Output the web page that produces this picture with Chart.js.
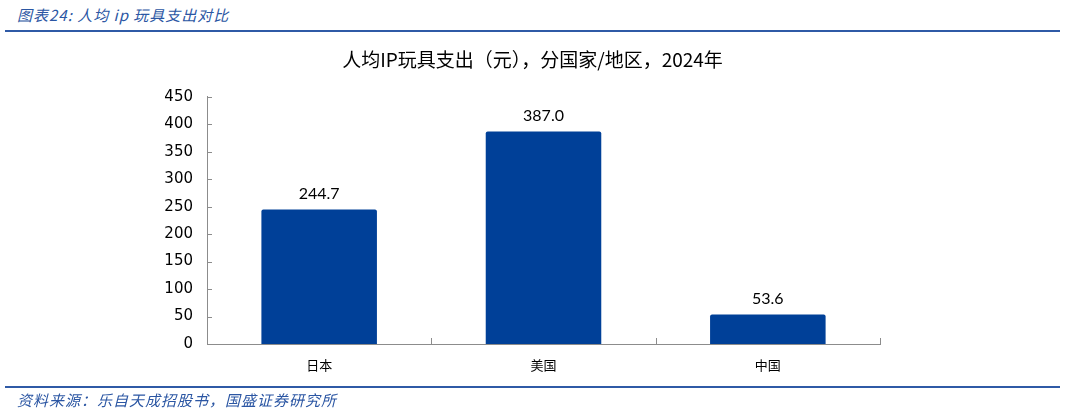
<!DOCTYPE html>
<html>
<head>
<meta charset="utf-8">
<script src="https://cdn.jsdelivr.net/npm/chart.js@4.4.1/dist/chart.umd.min.js"></script>
<style>
  html, body { margin: 0; padding: 0; background: #fff; }
  #wrap { position: relative; width: 1065px; height: 412px; overflow: hidden; }
  #head, #foot {
    position: absolute; left: 17px;
    font-family: "Noto Sans CJK SC", sans-serif; font-style: italic;
    font-size: 15px; color: #2b56a3; white-space: nowrap; letter-spacing: 1px;
  }
  #head { top: 4px; }
  #foot { top: 389px; }
  .rule { position: absolute; left: 5px; width: 1055px; height: 2px; background: #2f5aa6; }
  canvas { position: absolute; left: 0; top: 0; }
</style>
</head>
<body>
<div id="wrap">
  <div id="head">图表24:  人均 ip 玩具支出对比</div>
  <div class="rule" style="top:30px"></div>
  <canvas id="toyChart" width="1065" height="412"></canvas>
  <div class="rule" style="top:386px"></div>
  <div id="foot">资料来源：乐自天成招股书，国盛证券研究所</div>
</div>
<script>
// categories and values
const regions = ["日本", "美国", "中国"];
const spending = [244.7, 387.0, 53.6];
const yTicks = [0, 50, 100, 150, 200, 250, 300, 350, 400, 450];

const axisGrey = "#8c8c8c";

// inward tick marks + value labels above bars
const extras = {
  id: "extras",
  afterDatasetsDraw(chart) {
    const ctx = chart.ctx;
    const area = chart.chartArea;
    const y = chart.scales.y;
    const x = chart.scales.x;
    ctx.save();
    ctx.strokeStyle = axisGrey;
    ctx.lineWidth = 1;
    yTicks.forEach(function (v) {
      const py = Math.round(y.getPixelForValue(v)) + 0.5;
      ctx.beginPath();
      ctx.moveTo(area.left, py);
      ctx.lineTo(area.left + 5, py);
      ctx.stroke();
    });
    for (let i = 1; i <= regions.length; i++) {
      const px = Math.round(x.getPixelForValue(i - 0.5)) + 0.5;
      ctx.beginPath();
      ctx.moveTo(px, area.bottom);
      ctx.lineTo(px, area.bottom - 6);
      ctx.stroke();
    }
    ctx.fillStyle = "#000";
    ctx.font = "16px Lato";
    ctx.textAlign = "center";
    ctx.textBaseline = "middle";
    chart.getDatasetMeta(0).data.forEach(function (bar, i) {
      ctx.fillText(spending[i].toFixed(1), bar.x, bar.y - 16);
    });
    ctx.restore();
  }
};

new Chart(document.getElementById("toyChart").getContext("2d"), {
  type: "bar",
  data: {
    labels: regions,
    datasets: [
      {
        label: "人均IP玩具支出",
        data: spending,
        backgroundColor: "#004098",
        borderRadius: 2,
        borderSkipped: "bottom",
        categoryPercentage: 1,
        barPercentage: 0.515
      }
    ]
  },
  options: {
    responsive: false,
    animation: false,
    layout: { padding: 0 },
    plugins: {
      legend: { display: false },
      tooltip: { enabled: false },
      title: {
        display: true,
        text: "人均IP玩具支出（元），分国家/地区，2024年",
        color: "#000",
        font: { family: "Noto Sans CJK SC", size: 19, weight: "normal" },
        padding: { top: 48, bottom: 26 }
      }
    },
    scales: {
      x: {
        grid: { display: false, drawTicks: false },
        border: { display: true, color: axisGrey, width: 1 },
        ticks: {
          color: "#000",
          padding: 13,
          font: { family: "Noto Sans CJK SC", size: 13 }
        },
        afterFit(axis) { axis.height = 68; }
      },
      y: {
        min: 0,
        max: 450,
        afterBuildTicks(axis) { axis.ticks = yTicks.map(function (v) { return { value: v }; }); },
        grid: { display: false, drawTicks: false },
        border: { display: true, color: axisGrey, width: 1 },
        ticks: {
          color: "#000",
          padding: 14,
          font: { family: "DejaVu Sans", size: 15 }
        },
        afterFit(axis) { axis.width = 207; }
      },
      // empty right-hand spacer so the title stays centred on the page
      yRight: {
        position: "right",
        min: 0,
        max: 450,
        grid: { display: false, drawTicks: false },
        border: { display: false },
        ticks: { display: false },
        afterFit(axis) { axis.width = 185; }
      }
    }
  },
  plugins: [extras]
});
</script>
</body>
</html>
